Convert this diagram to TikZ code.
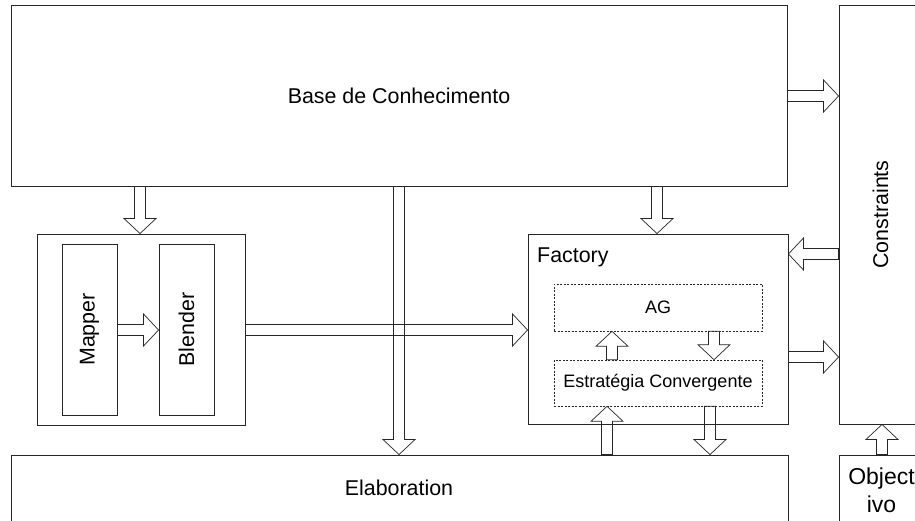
\documentclass[tikz,border=0pt]{standalone}
\usepackage{fontspec}
\setmainfont{Liberation Sans}
\usetikzlibrary{calc}

\tikzset{
  box/.style={draw=black!85, line width=0.9pt, inner sep=0pt, rectangle},
  dashbox/.style={draw=black!85, line width=0.6pt, dash pattern=on 2pt off 1.5pt, inner sep=0pt, rectangle},
  blockarr/.style={draw=black!85, line width=0.7pt, line join=miter},
  bigtext/.style={font=\fontsize{21.4}{25}\selectfont},
  smalltext/.style={font=\fontsize{18}{22}\selectfont},
}

% hollow block arrow from #1 to #2 (shaft half-width 5.5pt, head half-width 16pt, head length 15pt)
\newcommand\blockarrow[2]{%
  \coordinate (ba-s) at (#1);
  \coordinate (ba-e) at (#2);
  \coordinate (ba-h) at ($(ba-e)!15pt!(ba-s)$);
  \draw[blockarr]
    ($(ba-s)!5.5pt!90:(ba-e)$) -- ($(ba-h)!5.5pt!90:(ba-e)$) --
    ($(ba-h)!16pt!90:(ba-e)$) -- (ba-e) --
    ($(ba-h)!16pt!-90:(ba-e)$) -- ($(ba-h)!5.5pt!-90:(ba-e)$) --
    ($(ba-s)!5.5pt!-90:(ba-e)$) -- cycle;
}

\begin{document}
\begin{tikzpicture}[x=1pt, y=1pt]
  \useasboundingbox (0,0) rectangle (915,-521);
  \clip (0,0) rectangle (915,-521);
  \fill[white] (0,0) rectangle (915,-521);

  % main blocks
  \node[box, bigtext, minimum width=776pt, minimum height=181pt] (base) at (399,-95.5) {Base de Conhecimento};
  \node[box, minimum width=83pt, minimum height=419pt] (constr) at (880.5,-214.5) {};
  \node[bigtext, rotate=90] at (constr.center) {Constraints};
  \node[box, minimum width=777pt, minimum height=67pt] (elab) at (399.5,-488.5) {};
  \node[bigtext] at (399,-488) {Elaboration};
  \node[box, minimum width=83pt, minimum height=80pt] (obj) at (880.5,-495) {};
  \node[font=\fontsize{23}{28}\selectfont, align=center, anchor=base, inner sep=0pt] at (881.5,-512) {Object\\ivo};

  % mapping block
  \node[box, minimum width=208pt, minimum height=191pt] (mix) at (141,-329.5) {};
  \node[box, minimum width=55pt, minimum height=171pt] (mapper) at (89.5,-329.5) {};
  \node[bigtext, rotate=90] at (mapper.center) {Mapper};
  \node[box, minimum width=55pt, minimum height=171pt] (blender) at (186.5,-329.5) {};
  \node[bigtext, rotate=90] at (blender.center) {Blender};

  % factory block
  \node[box, minimum width=260pt, minimum height=190pt] (factory) at (658,-329) {};
  \node[bigtext, anchor=base west, inner sep=0pt] at (537,-262) {Factory};
  \node[dashbox, smalltext, minimum width=208pt, minimum height=47pt] (ag) at (658,-307.5) {AG};
  \node[dashbox, smalltext, minimum width=208pt, minimum height=46pt] (estr) at (658,-383) {Estratégia Convergente};

  % arrow positions
  \coordinate (xa) at (140,0);
  \coordinate (xb) at (399,0);
  \coordinate (xc) at (657,0);
  \coordinate (xd) at (612,0);
  \coordinate (xe) at (714,0);
  \coordinate (xf) at (607,0);
  \coordinate (xg) at (710,0);
  \coordinate (xh) at (882,0);
  \coordinate (ya) at (0,-96);
  \coordinate (yb) at (0,-254);
  \coordinate (yc) at (0,-357);
  \coordinate (yd) at (0,-330);

  % connectors
  \blockarrow{base.south -| xa}{mix.north -| xa}
  \blockarrow{base.south -| xb}{elab.north -| xb}
  \blockarrow{base.south -| xc}{factory.north -| xc}
  \blockarrow{base.east |- ya}{constr.west |- ya}
  \blockarrow{constr.west |- yb}{factory.east |- yb}
  \blockarrow{factory.east |- yc}{constr.west |- yc}
  \blockarrow{mapper.east |- yd}{blender.west |- yd}
  \blockarrow{mix.east |- yd}{factory.west |- yd}
  \blockarrow{estr.north -| xd}{ag.south -| xd}
  \blockarrow{ag.south -| xe}{estr.north -| xe}
  \blockarrow{elab.north -| xf}{estr.south -| xf}
  \blockarrow{estr.south -| xg}{elab.north -| xg}
  \blockarrow{obj.north -| xh}{constr.south -| xh}
\end{tikzpicture}
\end{document}
